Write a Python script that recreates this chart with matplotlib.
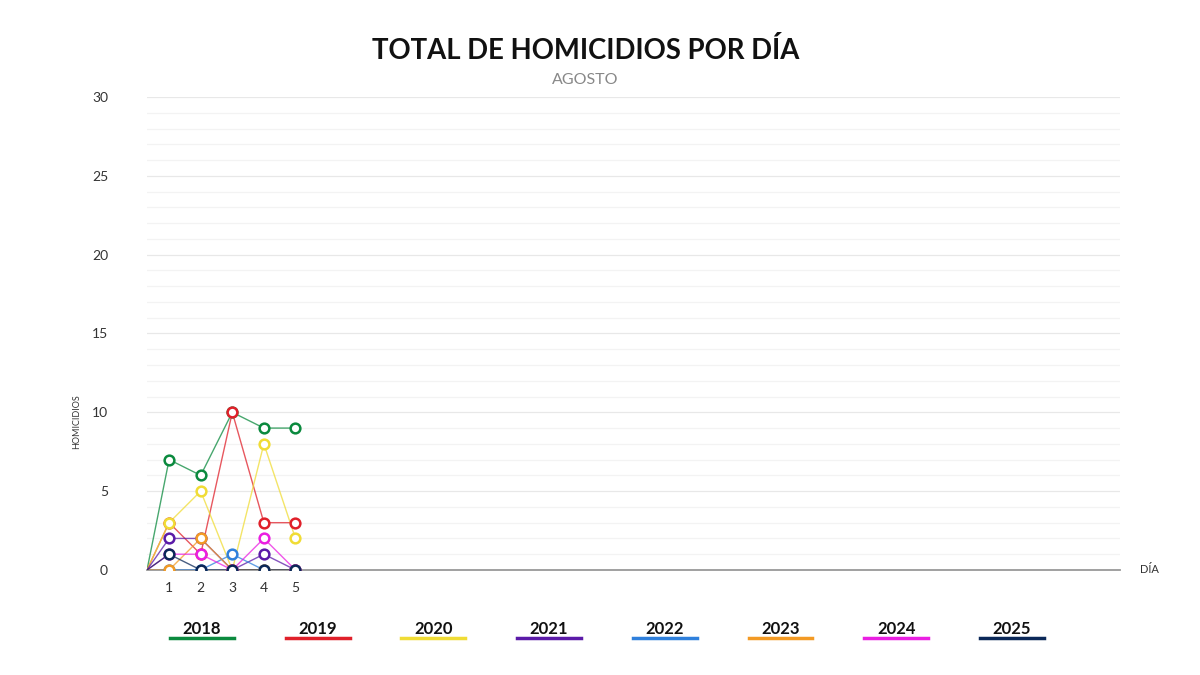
import matplotlib
matplotlib.use('Agg')
import matplotlib.pyplot as plt
from matplotlib.lines import Line2D

# datos: homicidios por dia, agosto
dias = [1, 2, 3, 4, 5]
x_inicio = 0.3  # el grafico arranca cada serie en 0 junto al eje
anios = ['2018', '2019', '2020', '2021', '2022', '2023', '2024', '2025']
colores = ['#0b8a3e', '#e0202a', '#f0dc35', '#5b1aa8', '#2f80dc', '#f39a24', '#ea1fe2', '#0b2858']
h2018 = [7, 6, 10, 9, 9]
h2019 = [3, 1, 10, 3, 3]
h2020 = [3, 5, 0, 8, 2]
h2021 = [2, 2, 0, 1, 0]
h2022 = [0, 0, 1, 0, 0]
h2023 = [0, 2, 0, 0, 0]
h2024 = [1, 1, 0, 2, 0]
h2025 = [1, 0, 0, 0, 0]
series = [h2018, h2019, h2020, h2021, h2022, h2023, h2024, h2025]

plt.rcParams['font.family'] = ['Lato', 'DejaVu Sans']

fig = plt.figure(figsize=(12, 6.75), dpi=100)
ax = fig.add_axes([0.1225, 0.1556, 0.8108, 0.7007])

for i in range(len(anios)):
    xs = [x_inicio] + dias
    ys = [0] + series[i]
    ax.plot(xs, ys, color=colores[i], lw=1, alpha=0.75, zorder=3 + i)
    ax.plot(dias, series[i], 'o', ms=7, mfc='white', mec=colores[i], mew=1.8,
            zorder=20 + i)

ax.set_xlim(0.3, 31.1)
ax.set_ylim(0, 30)
ax.set_yticks(range(0, 31, 5))
ax.set_yticks(range(0, 31, 1), minor=True)
ax.set_xticks(dias)
ax.grid(True, which='major', axis='y', color='#e8e8e8', lw=0.9)
ax.grid(True, which='minor', axis='y', color='#f3f3f3', lw=0.9)
for s in ['top', 'right', 'left']:
    ax.spines[s].set_visible(False)
ax.spines['bottom'].set_color('#999999')
ax.spines['bottom'].set_linewidth(1.3)
ax.tick_params(axis='y', which='both', length=0, pad=28, labelsize=10, labelcolor='#333333')
ax.tick_params(axis='x', length=0, pad=9, labelsize=10, labelcolor='#333333')
ax.set_axisbelow(True)

fig.text(0.488, 0.928 - 2 / 675, 'TOTAL DE HOMICIDIOS POR DÍA', ha='center', va='center',
         fontsize=19.8, fontweight='bold', color='#111111')
fig.text(0.488, 0.884 - 2 / 675, 'AGOSTO', ha='center', va='center', fontsize=11.5, color='#888888')
fig.text(0.064, 0.375, 'HOMICIDIOS', rotation=90, ha='center', va='center',
         fontsize=6.5, color='#333333')
fig.text(0.958, 0.156, 'DÍA', ha='center', va='center', fontsize=8, color='#333333')

# leyenda: año encima de una linea de color
for i in range(len(anios)):
    cx = (202 + i * 115.7) / 1200
    fig.text(cx, 1 - 629 / 675, anios[i], ha='center', va='center',
             fontsize=12, fontweight='bold', color='#111111')
    fig.add_artist(Line2D([cx - 32 / 1200, cx + 32 / 1200], [1 - 638 / 675] * 2,
                          color=colores[i], lw=2.5, transform=fig.transFigure))

fig.savefig('out.png', dpi=100)
